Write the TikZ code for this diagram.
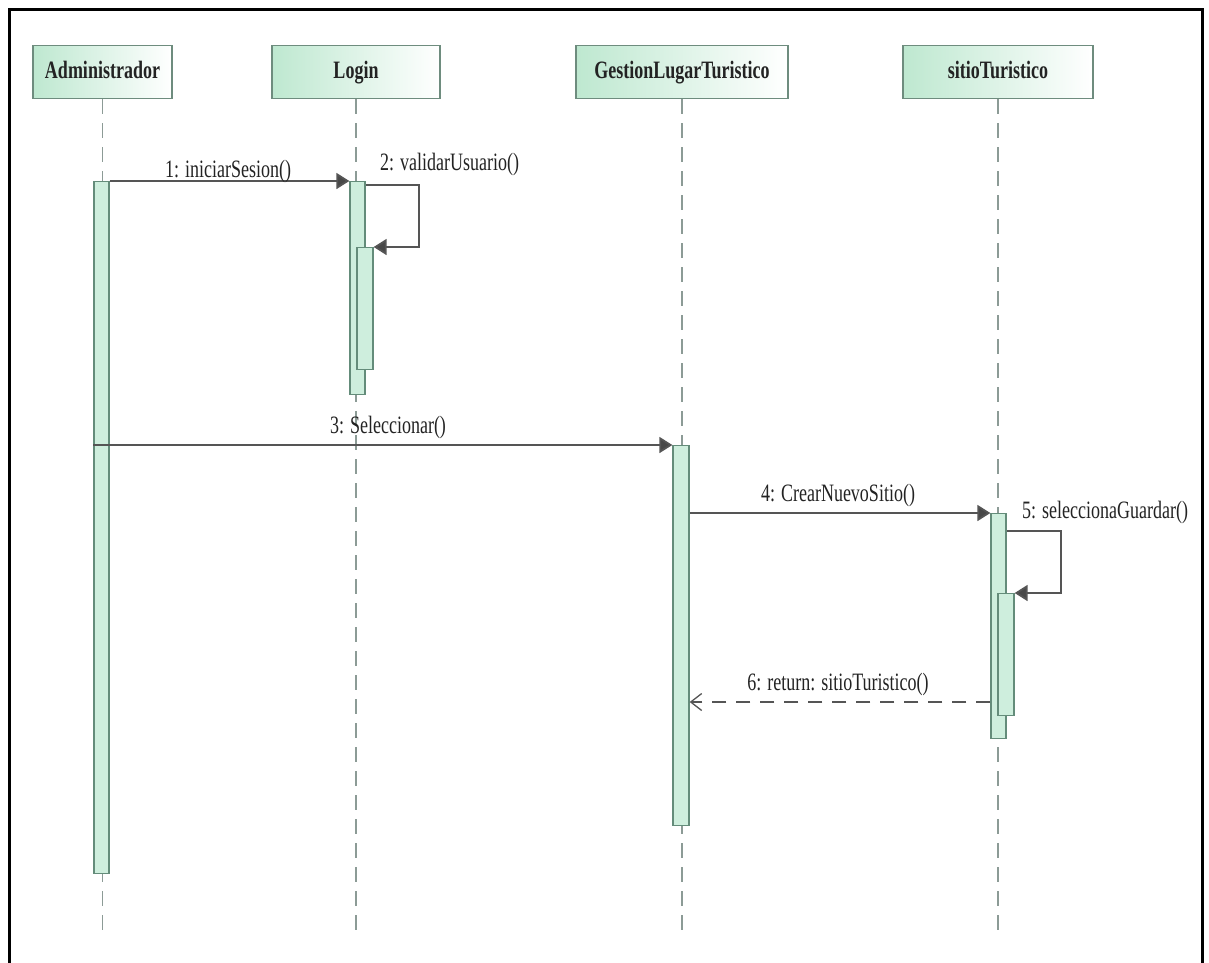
\documentclass[tikz,border=0pt]{standalone}
\usepackage{fontspec}
\setmainfont{Liberation Serif}[FakeStretch=0.72]
\usetikzlibrary{arrows.meta}

\definecolor{hdgreen}{RGB}{190,232,208}
\definecolor{hdline}{RGB}{110,140,126}
\definecolor{actfill}{RGB}{206,238,221}
\definecolor{actline}{RGB}{100,140,122}
\definecolor{lifegray}{RGB}{140,155,150}
\definecolor{msggray}{RGB}{85,85,85}
\definecolor{txtdark}{RGB}{35,35,35}

\tikzset{
  head/.style={draw=hdline, line width=1.5pt, left color=hdgreen, right color=white,
    minimum height=53pt, inner sep=0pt, text height=12pt, text depth=0pt,
    font=\fontsize{25}{28}\selectfont\bfseries, text=txtdark},
  lifeline/.style={draw=lifegray, line width=1.3pt, dash pattern=on 15pt off 9pt},
  actbar/.style={draw=actline, fill=actfill, line width=1.3pt, anchor=north,
    inner sep=0pt, minimum width=15pt},
  msg/.style={draw=msggray, line width=1.8pt,
    -{Triangle[length=13pt,width=16pt,fill=msggray!85!black]}},
  retmsg/.style={draw=msggray, line width=1.4pt, dash pattern=on 14pt off 10pt,
    -{Straight Barb[length=11pt,width=17pt,line width=1.3pt]}},
  lbl/.style={font=\fontsize{25}{28}\selectfont, text=txtdark, inner sep=0pt}
}

\begin{document}
\begin{tikzpicture}[x=1pt,y=-1pt]
\useasboundingbox (0,0) rectangle (1209,962);

% frame
\draw[black, line width=3.5pt] (9.5,975) -- (9.5,9.5) -- (1202.5,9.5) -- (1202.5,975);

% participants
\node[head, minimum width=139pt] (hAdm) at (102.5,72) {Administrador};
\node[head, minimum width=168pt] (hLog) at (356,72) {Login};
\node[head, minimum width=212pt] (hGes) at (682,72) {GestionLugarTuristico};
\node[head, minimum width=190pt] (hSit) at (998,72) {sitioTuristico};

% lifeline ends
\coordinate (eAdm) at (102,932);
\coordinate (eLog) at (357,932);
\coordinate (eGes) at (681,932);
\coordinate (eSit) at (998,932);

\draw[lifeline] (hAdm.south) -- (hAdm.south |- eAdm);
\draw[lifeline] (hLog.south) -- (hLog.south |- eLog);
\draw[lifeline] (hGes.south) -- (hGes.south |- eGes);
\draw[lifeline] (hSit.south) -- (hSit.south |- eSit);

% activation bars
\node[actbar, minimum height=692pt] (aAdm) at (101.5,181) {};
\node[actbar, minimum height=213pt] (aLog) at (357.5,181) {};
\node[actbar, minimum width=16pt, minimum height=122pt] (aLog2) at (365,247) {};
\node[actbar, minimum width=16pt, minimum height=380pt] (aGes) at (681,445) {};
\node[actbar, minimum height=225pt] (aSit) at (998.5,513) {};
\node[actbar, minimum width=16pt, minimum height=122pt] (aSit2) at (1006,593) {};

% messages
\draw[msg] (aAdm.north east) -- (aLog.north west);
\node[lbl, anchor=base] (l1) at (228,177) {1: iniciarSesion()};

\draw[msg] ([yshift=-4pt]aLog.north east) -- ++(53,0) |- (aLog2.north east);
\node[lbl, anchor=base west] (l2) at (380,170) {2: validarUsuario()};

\draw[msg] (aAdm.west |- aGes.north west) -- (aGes.north west);
\node[lbl, anchor=base] (l3) at (388,433) {3: Seleccionar()};

\draw[msg] (aGes.east |- aSit.north west) -- (aSit.north west);
\node[lbl, anchor=base] (l4) at (838,501) {4: CrearNuevoSitio()};

\draw[msg] ([yshift=-18pt]aSit.north east) -- ++(54,0) |- (aSit2.north east);
\node[lbl, anchor=base west] (l5) at (1022,518) {5: seleccionaGuardar()};

\coordinate (r6) at (0,702);
\draw[retmsg] (aSit.west |- r6) -- (aGes.east |- r6);
\node[lbl, anchor=base] (l6) at (838,690) {6: return: sitioTuristico()};
\end{tikzpicture}
\end{document}
